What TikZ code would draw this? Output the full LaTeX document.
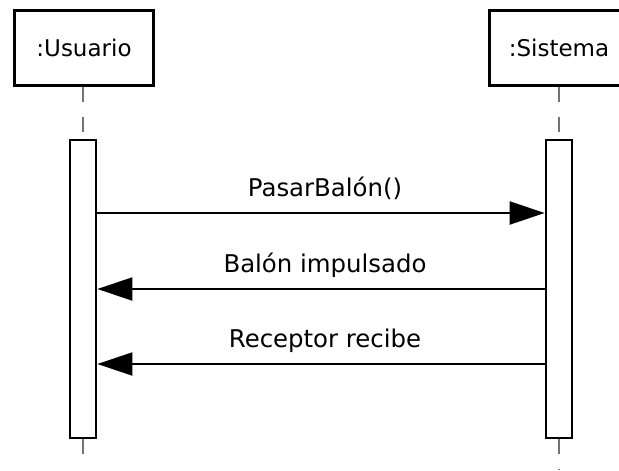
\documentclass[tikz,border=0pt]{standalone}
\usepackage{fontspec}
\setmainfont{DejaVu Sans}
\usetikzlibrary{arrows.meta, positioning}

\begin{document}
\begin{tikzpicture}[x=0.5pt, y=-0.5pt,
		objbox/.style={draw, line width=1.8pt, minimum width=69.5pt, minimum height=37.5pt, inner sep=0pt, font=\fontsize{11.5}{14}\selectfont},
		actbox/.style={draw, fill=white, line width=1.4pt, minimum width=13pt, minimum height=149pt, inner sep=0pt},
		lifeline/.style={draw=black!55, line width=1pt, dash pattern=on 7.5pt off 7.5pt},
		msg/.style={line width=1.1pt, -{Triangle[length=17.5pt, width=11.5pt]}},
		msglabel/.style={anchor=base, inner sep=0pt, xshift=2pt, yshift=8.5pt, font=\fontsize{12.2}{14}\selectfont}]
			\useasboundingbox (0,0) rectangle (619,470);
			\clip (0,0) rectangle (619,470);
			% Objects and their lifelines:
			\node[objbox] (usr) at (84,48) {:Usuario};
			\node[objbox] (sys) at (559,48) {:Sistema};
			\node[actbox] (usrAct) at (83,289) {};
			\node[actbox] (sysAct) at (559,289) {};
			\coordinate (usrEnd) at (83,460);
			\coordinate (sysEnd) at (559,470);
			\draw[lifeline] (usr.south -| usrAct) -- (usrAct.north);
			\draw[lifeline] (sys.south -| sysAct) -- (sysAct.north);
			\draw[lifeline] (usrAct.south) -- (usrEnd);
			\draw[lifeline] (sysAct.south) -- (sysEnd);
			% Messages:
			\coordinate (m1) at (0,213);
			\coordinate (m2) at (0,289);
			\coordinate (m3) at (0,364);
			\draw[msg] (usrAct.east |- m1) -- (sysAct.west |- m1) node[msglabel, midway] {PasarBalón()};
			\draw[msg] (sysAct.west |- m2) -- (usrAct.east |- m2) node[msglabel, midway] {Balón impulsado};
			\draw[msg] (sysAct.west |- m3) -- (usrAct.east |- m3) node[msglabel, midway] {Receptor recibe};
		\end{tikzpicture}
\end{document}
